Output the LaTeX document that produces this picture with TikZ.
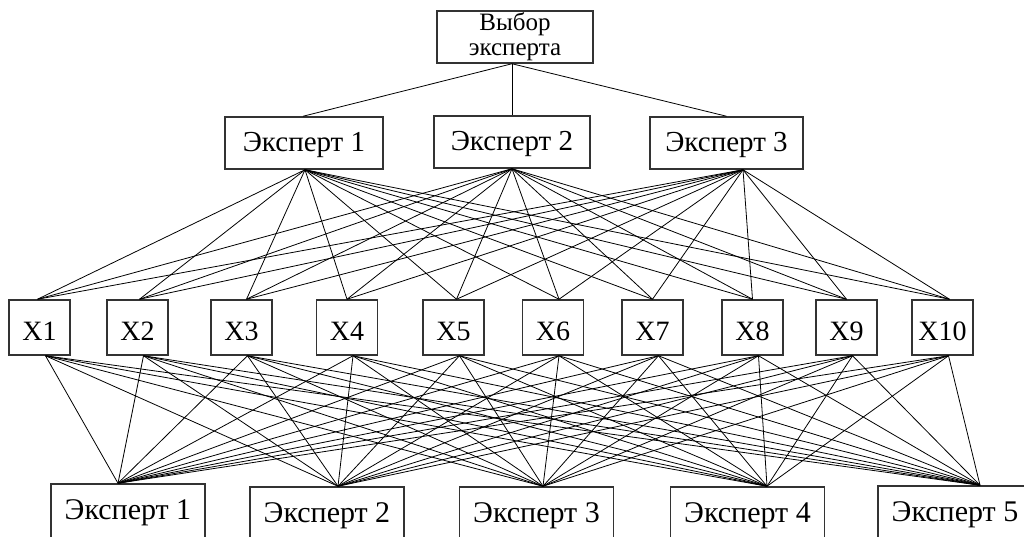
\documentclass[tikz,border=0pt]{standalone}
\usepackage{fontspec}
\setmainfont{Liberation Serif}
\begin{document}
\begin{tikzpicture}[x=1pt,y=-1pt,
  box/.style={draw=black!80, line width=1.5pt, inner xsep=0pt, inner ysep=0pt},
  mid/.style={box, anchor=base, text height=35pt, text depth=17pt, font=\fontsize{29}{30}\selectfont},
  xbox/.style={box, anchor=base, text height=40pt, text depth=15pt, minimum width=61pt, font=\fontsize{28}{30}\selectfont},
  lowbox/.style={box, anchor=base, text height=35pt, text depth=30pt, minimum width=154pt, font=\fontsize{30}{30}\selectfont},
  link/.style={line width=0.8pt},
]
\useasboundingbox (0,0) rectangle (1024,537);
\clip (0,0) rectangle (1024,537);

% root
\node[box, minimum width=156pt, minimum height=52pt, align=center,
      font=\fontsize{25}{25}\selectfont] (top) at (515,37) {Выбор\\эксперта};

% experts of the first level
\node[mid, minimum width=158pt] (m1) at (304,152) {Эксперт 1};
\node[mid, minimum width=156pt] (m2) at (512,151) {Эксперт 2};
\node[mid, minimum width=153pt] (m3) at (726.5,152) {Эксперт 3};

% criteria
\foreach \i/\x in {1/39.5,2/137.5,3/241.5,4/347,5/453.5,6/553,7/652.5,8/752.5,9/846.5,10/942.5}
  \node[xbox] (x\i) at (\x,340) {X\i};

% experts of the second level
\node[lowbox] (b1) at (128,519) {Эксперт 1};
\node[lowbox] (b2) at (327,522) {Эксперт 2};
\node[lowbox] (b3) at (536.5,522) {Эксперт 3};
\node[lowbox] (b4) at (747.5,522) {Эксперт 4};
\node[lowbox] (b5) at (955,521) {Эксперт 5};

% attachment points
\coordinate (tb) at ([xshift=-3]top.south);
\coordinate (mt1) at ([xshift=-1]m1.north);
\coordinate (mt2) at (m2.north);
\coordinate (mt3) at (m3.north);
\coordinate (mb1) at ([xshift=1]m1.south);
\coordinate (mb2) at (m2.south);
\coordinate (mb3) at ([xshift=16.5]m3.south);
\foreach \i/\d in {1/-2,2/2,3/5,4/0,5/3,6/6,7/0,8/0,9/0,10/7}
  \coordinate (xt\i) at ([xshift=\d]x\i.north);
\foreach \i in {1,...,10}
  \coordinate (xb\i) at ([xshift=6]x\i.south);
\foreach \i/\d in {1/-10,2/11,3/6.5,4/19.5,5/25}
  \coordinate (bt\i) at ([xshift=\d]b\i.north);

% connectors
\foreach \m in {1,2,3}
  \draw[link] (tb) -- (mt\m);
\foreach \m in {1,2,3}
  \foreach \i in {1,...,10}
    \draw[link] (mb\m) -- (xt\i);
\foreach \i in {1,...,10}
  \foreach \b in {1,...,5}
    \draw[link] (xb\i) -- (bt\b);
\end{tikzpicture}
\end{document}
